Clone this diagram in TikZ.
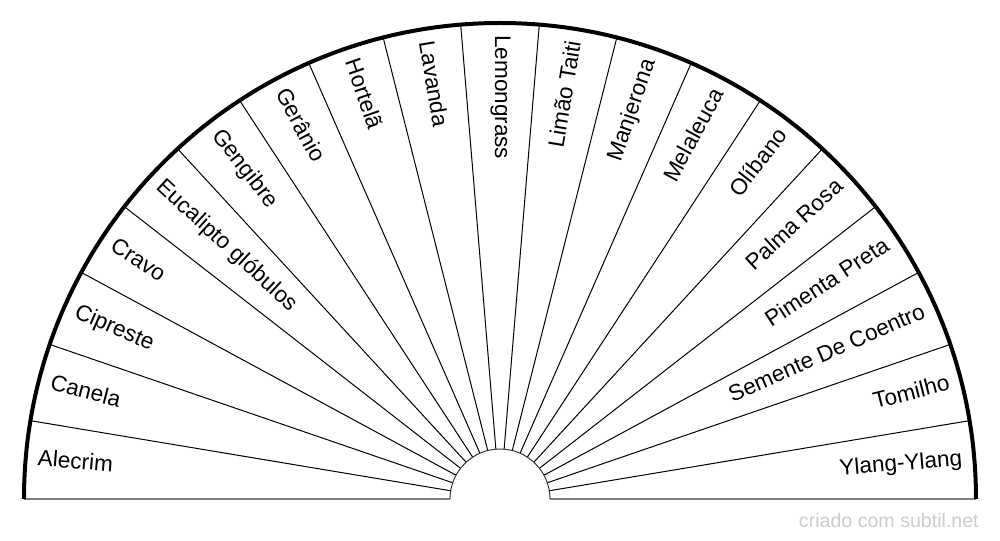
\documentclass[tikz,border=0pt]{standalone}
\usepackage{fontspec}
\setmainfont{Liberation Sans}
\begin{document}
\begin{tikzpicture}[x=0.75pt,y=0.75pt,
  sectorline/.style={draw=black,line width=0.75pt},
  outerarc/.style={draw=black,line width=3pt},
  baseln/.style={draw=black!50,line width=1.5pt},
  innerarc/.style={draw=black!80,line width=0.75pt},
  lbl/.style={inner sep=0pt,font=\fontsize{16.9pt}{20pt}\selectfont,text height=0.72em,text depth=0pt},
  wmark/.style={inner sep=0pt,font=\fontsize{14.7pt}{17pt}\selectfont,text=black!20}]
\useasboundingbox (-500,-41) rectangle (500,499);
\coordinate (c) at (0,0);
\coordinate (ol) at (-476,0);
\coordinate (orr) at (476,0);
\coordinate (il) at (-50,0);
\coordinate (ir) at (50,0);
% sector lines
\foreach \k in {1,...,18}{
  \pgfmathsetmacro{\a}{180-\k*180/19}
  \coordinate (s\k) at (\a:50);
  \coordinate (e\k) at (\a:476);
  \draw[sectorline] (s\k) -- (e\k);
}
\draw[baseln] (ol) -- (il);
\draw[baseln] (ir) -- (orr);
\draw[innerarc] (il) arc[start angle=180,end angle=0,radius=50];
\draw[outerarc] (ol) arc[start angle=180,end angle=0,radius=476];
% labels
\foreach \t [count=\i from 0] in {Alecrim,Canela,Cipreste,Cravo,Eucalipto glóbulos,Gengibre,Gerânio,Hortelã,Lavanda,Lemongrass,Limão Taiti,Manjerona,Melaleuca,Olíbano,Palma Rosa,Pimenta Preta,Semente De Coentro,Tomilho,Ylang-Ylang}{
  \pgfmathsetmacro{\a}{180-(\i+0.5)*180/19}
  \ifnum\i<10
    \node[lbl,anchor=west,rotate=\a-180] (l\i) at (\a:464) {\t};
  \else
    \node[lbl,anchor=east,rotate=\a] (l\i) at (\a:464) {\t};
  \fi
}
\node[wmark,anchor=base east] (wm) at (479,-28) {criado com subtil.net};
\end{tikzpicture}
\end{document}
